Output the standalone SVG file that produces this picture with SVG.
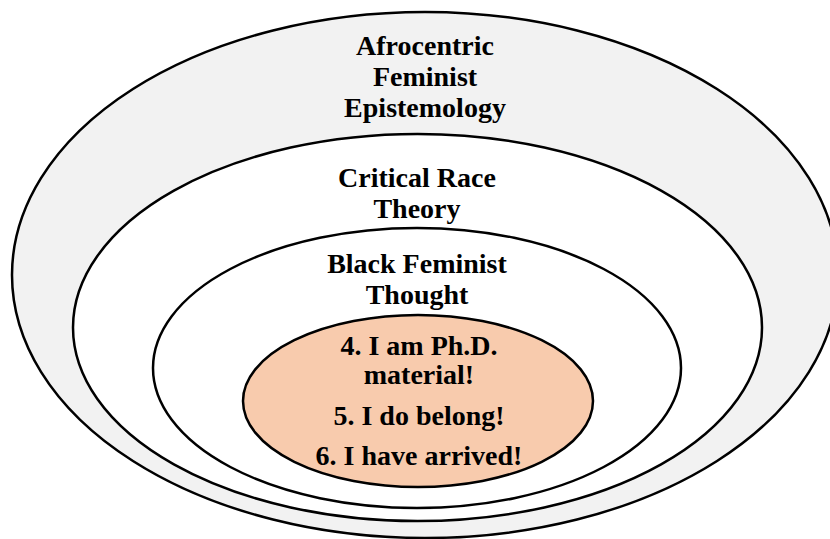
<svg xmlns="http://www.w3.org/2000/svg" width="830" height="539" viewBox="0 0 830 539">
  <style>
    .ring { stroke: #000; stroke-width: 2.5; }
    .label { font-family: "Liberation Serif", "Times New Roman", serif; font-weight: bold; font-size: 28px; fill: #000; text-anchor: middle; }
  </style>
  <rect width="830" height="539" fill="#fff"/>

  <g id="afrocentric-feminist-epistemology">
    <ellipse class="ring" cx="425" cy="275" rx="413" ry="263" fill="#f2f2f2"/>
    <text class="label" x="425" y="55">Afrocentric</text>
    <text class="label" x="425" y="86">Feminist</text>
    <text class="label" x="425" y="117">Epistemology</text>
  </g>

  <g id="critical-race-theory">
    <ellipse class="ring" cx="417.5" cy="327.5" rx="344.5" ry="193.5" fill="#fff"/>
    <text class="label" x="417" y="187">Critical Race</text>
    <text class="label" x="417" y="218">Theory</text>
  </g>

  <g id="black-feminist-thought">
    <ellipse class="ring" cx="417" cy="368" rx="264" ry="140" fill="#fff"/>
    <text class="label" x="417" y="273">Black Feminist</text>
    <text class="label" x="417" y="304">Thought</text>
  </g>

  <g id="affirmations">
    <ellipse class="ring" cx="418" cy="401" rx="175" ry="86" fill="#f8cbad"/>
    <text class="label" x="419" y="355">4. I am Ph.D.</text>
    <text class="label" x="419" y="384">material!</text>
    <text class="label" x="419" y="425">5. I do belong!</text>
    <text class="label" x="419" y="465">6. I have arrived!</text>
  </g>

  <g id="connectors"/>
</svg>
